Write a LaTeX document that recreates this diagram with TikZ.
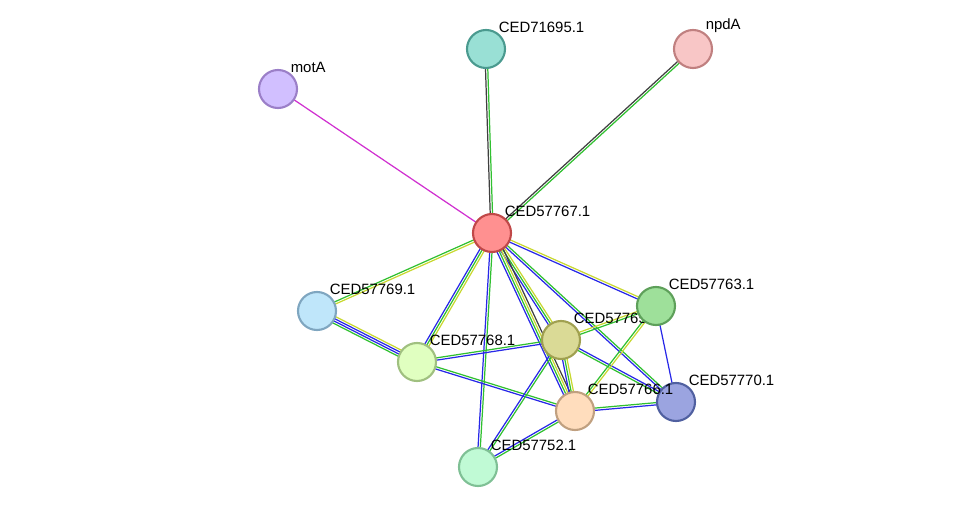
\documentclass[tikz,border=0pt]{standalone}
\usepackage{fontspec}
\setmainfont{Liberation Sans}
\usetikzlibrary{calc,backgrounds}
\definecolor{emag}{HTML}{D030D0}
\definecolor{egrn}{HTML}{30C030}
\definecolor{eblu}{HTML}{2828E8}
\definecolor{eyel}{HTML}{C8D830}
\definecolor{eblk}{HTML}{404040}
\tikzset{
  prot/.style n args={3}{circle, minimum size=0.76cm, line width=1.2pt,
    /utils/exec={\definecolor{pfill}{HTML}{#1}\definecolor{pdraw}{HTML}{#2}},
    fill=pfill, draw=pdraw,
    label={[font=\fontsize{8.5}{10}\selectfont, anchor=south west, inner sep=1pt, xshift=-2pt]45:#3}},
}
% edge macro: parallel lines, one per colour
\newcommand\evid[3]{%
  \foreach \c [count=\i] in {#3} {\xdef\nev{\i}}%
  \foreach \c [count=\i] in {#3} {%
    \pgfmathsetmacro\off{(\i-(\nev+1)/2)*1.3}%
    \draw[\c, line width=0.7pt] ($(#1)!\off pt!90:(#2)$) -- ($(#2)!\off pt!-90:(#1)$);
  }}
\begin{document}
\begin{tikzpicture}[x=0.02cm, y=-0.02cm]
\useasboundingbox (0,0) rectangle (975,513);
\node[prot={D1BFFF}{9B7FC8}{motA}] (motA) at (278,89) {};
\node[prot={99E0D5}{4A9A8F}{CED71695.1}] (p71695) at (486,49) {};
\node[prot={F8C6C6}{C08080}{npdA}] (npdA) at (693,49) {};
\node[prot={FF9090}{C04848}{CED57767.1}] (p67) at (492,233) {};
\node[prot={BFE6FA}{7FA6C0}{CED57769.1}] (p69) at (317,311) {};
\node[prot={E0FFC0}{A0C080}{CED57768.1}] (p68) at (417,362) {};
\node[prot={DADA96}{A0A050}{CED57765.1}] (p65) at (561,340) {};
\node[prot={9EE09A}{5EA05A}{CED57763.1}] (p63) at (656,306) {};
\node[prot={9BA4E0}{5060A0}{CED57770.1}] (p70) at (676,402) {};
\node[prot={FFDDBD}{C0A080}{CED57766.1}] (p66) at (575,411) {};
\node[prot={C0FAD5}{7FC095}{CED57752.1}] (p52) at (478,467) {};
\begin{scope}[on background layer]
\evid{p67}{motA}{emag}
\evid{p67}{p71695}{egrn,eblk}
\evid{p67}{npdA}{egrn,eblk}
\evid{p67}{p69}{egrn,eyel}
\evid{p67}{p68}{eblu,egrn,eyel}
\evid{p67}{p65}{eblu,egrn,eyel}
\evid{p67}{p63}{eblu,eyel}
\evid{p67}{p70}{eblu,egrn}
\evid{p67}{p66}{eblu,egrn,eyel,eblk}
\evid{p67}{p52}{eblu,egrn}
\evid{p69}{p68}{egrn,eblu,eblu,eyel}
\evid{p68}{p65}{eblu,egrn}
\evid{p68}{p66}{eblu,egrn}
\evid{p65}{p63}{egrn,eyel}
\evid{p65}{p70}{egrn,eblu}
\evid{p65}{p66}{eblu,egrn,eyel}
\evid{p65}{p52}{eblu,egrn}
\evid{p63}{p70}{eblu}
\evid{p63}{p66}{egrn,eyel}
\evid{p66}{p70}{eblu,egrn}
\evid{p66}{p52}{eblu,egrn}
\end{scope}
\end{tikzpicture}
\end{document}
